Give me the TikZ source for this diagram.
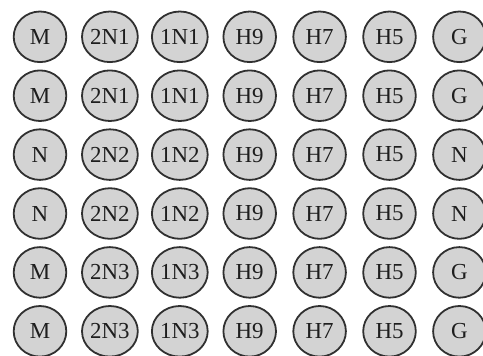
\documentclass[tikz,border=0pt]{standalone}
\usepackage{fontspec}
\setmainfont{Liberation Serif}
\definecolor{cellfill}{HTML}{D3D3D3}
\definecolor{celldraw}{HTML}{303030}
\definecolor{celltext}{HTML}{1E1E1E}
\usetikzlibrary{shapes.geometric}
\tikzset{
  cell/.style={ellipse, draw=celldraw, line width=1.8bp, fill=cellfill,
    minimum width=52.6bp, minimum height=50.6bp, inner sep=0pt,
    text=celltext, font=\fontsize{23}{25}\selectfont}
}
\begin{document}
\begin{tikzpicture}[x=1bp,y=-1bp]
\useasboundingbox (0,0) rectangle (483,355);
\clip (0,0) rectangle (483,355);
\foreach \row/\a/\b/\c/\z in {1/M/2N1/1N1/G,2/M/2N1/1N1/G,3/N/2N2/1N2/N,4/N/2N2/1N2/N,5/M/2N3/1N3/G,6/M/2N3/1N3/G}{
  \pgfmathsetmacro{\yy}{36.8+(\row-1)*58.9}
  \node[cell] (c\row-1) at (40,\yy) {\raisebox{-1.5bp}{\a}};
  \node[cell] (c\row-2) at (109.9,\yy) {\raisebox{-1.5bp}{\b}};
  \node[cell] (c\row-3) at (179.8,\yy) {\raisebox{-1.5bp}{\c}};
  \node[cell] (c\row-4) at (249.7,\yy) {\raisebox{-1.5bp}{H9}};
  \node[cell] (c\row-5) at (319.6,\yy) {\raisebox{-1.5bp}{H7}};
  \node[cell] (c\row-6) at (389.5,\yy) {\raisebox{-1.5bp}{H5}};
  \node[cell] (c\row-7) at (459.4,\yy) {\raisebox{-1.5bp}{\z}};
}
\end{tikzpicture}
\end{document}
